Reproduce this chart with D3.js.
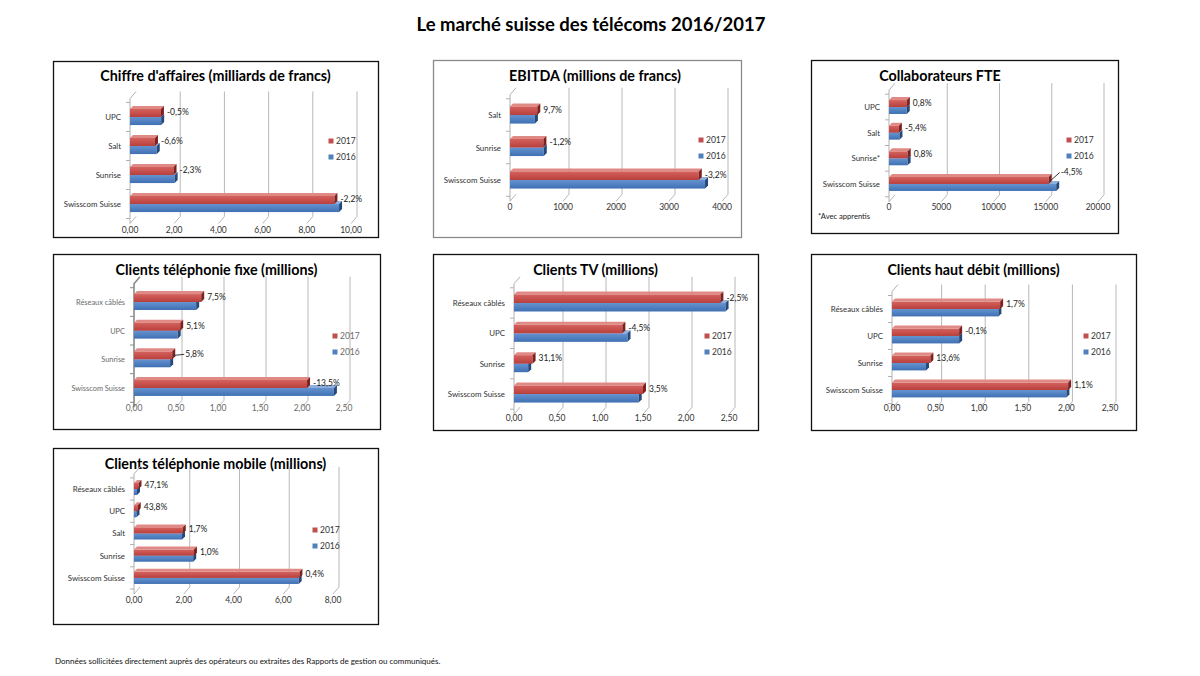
<!DOCTYPE html>
<html><head><meta charset="utf-8">
<script src="https://cdn.jsdelivr.net/npm/d3@7"></script>
<style>body{margin:0;background:#fff}svg{display:block}text{font-family:Lato,'Open Sans',sans-serif}</style>
</head><body><svg id="c" width="1200" height="676"></svg>
<script>
// ---------- DATA ----------
const seriesNames = ["2017", "2016"];

const caCats = ["UPC", "Salt", "Sunrise", "Swisscom Suisse"];
const ca2017 = [1.40, 1.13, 1.97, 9.25];
const ca2016 = [1.41, 1.21, 2.02, 9.46];
const caChg  = ["-0,5%", "-6,6%", "-2,3%", "-2,2%"];
const caTicks = [0, 2, 4, 6, 8, 10];

const ebCats = ["Salt", "Sunrise", "Swisscom Suisse"];
const eb2017 = [515, 630, 3562];
const eb2016 = [470, 638, 3680];
const ebChg  = ["9,7%", "-1,2%", "-3,2%"];
const ebTicks = [0, 1000, 2000, 3000, 4000];

const fteCats = ["UPC", "Salt", "Sunrise*", "Swisscom Suisse"];
const fte2017 = [1710, 946, 1795, 15280];
const fte2016 = [1696, 1000, 1780, 16000];
const fteChg  = ["0,8%", "-5,4%", "0,8%", "-4,5%"];
const fteTicks = [0, 5000, 10000, 15000, 20000];

const fixCats = ["Réseaux câblés", "UPC", "Sunrise", "Swisscom Suisse"];
const fix2017 = [0.80, 0.55, 0.455, 2.06];
const fix2016 = [0.74, 0.52, 0.43, 2.38];
const fixChg  = ["7,5%", "5,1%", "5,8%", "-13,5%"];
const fixTicks = [0, 0.5, 1, 1.5, 2, 2.5];

const tvCats = ["Réseaux câblés", "UPC", "Sunrise", "Swisscom Suisse"];
const tv2017 = [2.40, 1.26, 0.216, 1.50];
const tv2016 = [2.46, 1.32, 0.165, 1.45];
const tvChg  = ["-2,5%", "-4,5%", "31,1%", "3,5%"];
const tvTicks = [0, 0.5, 1, 1.5, 2, 2.5];

const hdCats = ["Réseaux câblés", "UPC", "Sunrise", "Swisscom Suisse"];
const hd2017 = [1.24, 0.77, 0.44, 2.02];
const hd2016 = [1.22, 0.77, 0.39, 2.00];
const hdChg  = ["1,7%", "-0,1%", "13,6%", "1,1%"];
const hdTicks = [0, 0.5, 1, 1.5, 2, 2.5];

const mobCats = ["Réseaux câblés", "UPC", "Salt", "Sunrise", "Swisscom Suisse"];
const mob2017 = [0.18, 0.15, 1.96, 2.41, 6.65];
const mob2016 = [0.12, 0.10, 1.93, 2.38, 6.62];
const mobChg  = ["47,1%", "43,8%", "1,7%", "1,0%", "0,4%"];
const mobTicks = [0, 2, 4, 6, 8];

const mainTitle = "Le marché suisse des télécoms 2016/2017";
const footer = "Données sollicitées directement auprès des opérateurs ou extraites des Rapports de gestion ou communiqués.";

// ---------- RENDER ----------
const svg = d3.select("#c");
const defs = svg.append("defs");
function grad(id, c1, c2) {
  const g = defs.append("linearGradient").attr("id", id).attr("x1", 0).attr("y1", 0).attr("x2", 0).attr("y2", 1);
  g.append("stop").attr("offset", "0%").attr("stop-color", c1);
  g.append("stop").attr("offset", "100%").attr("stop-color", c2);
}
grad("gRed", "#d5625e", "#b83f3c");
grad("gBlue", "#6593d0", "#3f70b3");
const COL = {
  red:  {front: "url(#gRed)",  top: "#e08a86", side: "#7d2220", legend: "#c0504d"},
  blue: {front: "url(#gBlue)", top: "#8fb0dc", side: "#25497a", legend: "#4f81bd"}
};

const comma2 = v => d3.format(".2f")(v).replace(".", ",");
const intFmt = v => d3.format("d")(v);

svg.append("text").attr("x", 591).attr("y", 31).attr("text-anchor", "middle")
  .attr("font-size", 18.5).attr("font-weight", "bold").attr("fill", "#000").text(mainTitle);
svg.append("text").attr("x", 55).attr("y", 664).attr("font-size", 8).attr("fill", "#111").text(footer);

function panel(cfg) {
  const g = svg.append("g");
  const [bx, by, bw, bh] = cfg.box;
  g.append("rect").attr("x", bx + 0.5).attr("y", by + 0.5).attr("width", bw).attr("height", bh)
    .attr("fill", "#fff").attr("stroke", cfg.border || "#111").attr("stroke-width", 1.3);
  g.append("text").attr("x", cfg.titleX != null ? cfg.titleX : bx + bw / 2).attr("y", cfg.titleY)
    .attr("text-anchor", "middle").attr("font-size", 14.3).attr("font-weight", "bold").attr("fill", "#000").text(cfg.title);

  const x = d3.scaleLinear().domain([0, cfg.max]).range([cfg.x0, cfg.x1]);
  const y = d3.scaleBand().domain(cfg.cats).range([cfg.top, cfg.bottom]).padding(0);
  const DX = 6, DY = 7;
  const wallTop = cfg.top - 4, floor = cfg.bottom + 5;

  // back wall gridlines + floor diagonals
  const grid = g.append("g").attr("fill", "none").attr("stroke", "#b8b8b8").attr("stroke-width", 1);
  cfg.ticks.forEach((t, i) => {
    const xx = x(t);
    if (i === 0) {
      grid.append("path").attr("d", `M${xx + DX},${floor - DY} L${xx},${floor}`);
      return;
    }
    grid.append("path").attr("d", `M${xx + DX},${wallTop - DY} V${floor - DY} L${xx},${floor}`);
  });
  // left wall
  const x0 = x(0);
  const wallCol = cfg.muted ? "#8a8a8a" : "#b0b0b0";
  g.append("path").attr("fill", "none").attr("stroke", wallCol).attr("stroke-width", cfg.muted ? 1.6 : 1)
    .attr("d", `M${x0 + DX},${wallTop - DY} L${x0},${wallTop} V${floor}`);
  // category ticks on left wall
  cfg.cats.forEach(c => {
    g.append("line").attr("x1", x0 - 4).attr("x2", x0).attr("y1", y(c)).attr("y2", y(c))
      .attr("stroke", wallCol).attr("stroke-width", 1);
  });
  g.append("line").attr("x1", x0 - 4).attr("x2", x0).attr("y1", cfg.bottom).attr("y2", cfg.bottom)
    .attr("stroke", wallCol);

  // x tick labels
  const txtCol = cfg.muted ? "#6a6a6a" : "#333";
  cfg.ticks.forEach(t => {
    g.append("text").attr("x", x(t)).attr("y", cfg.tickY).attr("text-anchor", "middle")
      .attr("font-size", 8.5).attr("fill", txtCol).text(cfg.fmt(t));
  });
  // category labels
  cfg.cats.forEach(c => {
    g.append("text").attr("x", x0 - 9).attr("y", y(c) + y.bandwidth() / 2 + 3).attr("text-anchor", "end")
      .attr("font-size", cfg.muted ? 7.4 : 7.9).attr("fill", txtCol).text(c);
  });

  // bars
  const step = y.bandwidth();
  const groupH = step * cfg.fill;
  const barH = groupH / 2 - 1.5;
  const bdx = 3, bdy = 3;
  function bar(v, yTop, col) {
    const xe = x(v);
    g.append("path").attr("fill", col.top)
      .attr("d", `M${x0},${yTop} L${x0 + bdx},${yTop - bdy} H${xe + bdx} L${xe},${yTop} Z`);
    g.append("rect").attr("x", x0).attr("y", yTop).attr("width", Math.max(0, xe - x0)).attr("height", barH)
      .attr("fill", col.front);
    g.append("path").attr("fill", col.side)
      .attr("d", `M${xe},${yTop} L${xe + bdx},${yTop - bdy} V${yTop + barH - bdy} L${xe},${yTop + barH} Z`);
  }
  cfg.cats.forEach((c, i) => {
    const gTop = y(c) + (step - groupH) / 2 + 1.5;
    bar(cfg.v2016[i], gTop + barH, COL.blue);
    bar(cfg.v2017[i], gTop, COL.red);
    const nud = (cfg.nudge && cfg.nudge[i]) || null;
    const lx = x(cfg.v2017[i]) + bdx + 3 + (nud ? nud.dx : 0);
    const ly = gTop + barH / 2 + 2 + (nud ? nud.dy : 0);
    if (nud) {
      g.append("path").attr("fill", "none").attr("stroke", "#222").attr("stroke-width", 0.9)
        .attr("d", `M${x(cfg.v2017[i]) + 2},${gTop + barH / 2} L${lx - 1},${ly - 3}`);
    }
    g.append("text").attr("x", lx).attr("y", ly).attr("font-size", 8.5).attr("fill", "#222").text(cfg.chg[i]);
  });

  // legend
  seriesNames.forEach((s, i) => {
    const ly = cfg.legend[1] + i * 16;
    g.append("rect").attr("x", cfg.legend[0] - 2.5).attr("y", ly - 2.5).attr("width", 5).attr("height", 5)
      .attr("fill", i === 0 ? COL.red.legend : COL.blue.legend);
    g.append("text").attr("x", cfg.legend[0] + 5).attr("y", ly + 3).attr("font-size", 8.5)
      .attr("fill", txtCol).text(s);
  });
  if (cfg.note) {
    g.append("text").attr("x", cfg.note[0]).attr("y", cfg.note[1]).attr("font-size", 7.6).attr("fill", "#222").text(cfg.note[2]);
  }
}

panel({title: "Chiffre d'affaires (milliards de francs)", box: [53, 61, 325, 176], titleY: 81,
  cats: caCats, v2017: ca2017, v2016: ca2016, chg: caChg, ticks: caTicks, max: 10, fmt: comma2,
  x0: 130, x1: 351, top: 102.5, bottom: 218.5, tickY: 233, fill: 0.66, legend: [331, 141]});

panel({title: "EBITDA (millions de francs)", box: [433, 60, 308, 177], titleY: 81, titleX: 595, border: "#8a8a8a",
  cats: ebCats, v2017: eb2017, v2016: eb2016, chg: ebChg, ticks: ebTicks, max: 4000, fmt: intFmt,
  x0: 510, x1: 722, top: 98.75, bottom: 196.25, tickY: 210, fill: 0.62, legend: [701, 140]});

panel({title: "Collaborateurs FTE", box: [811, 60, 307, 173], titleY: 81, titleX: 940,
  cats: fteCats, v2017: fte2017, v2016: fte2016, chg: fteChg, ticks: fteTicks, max: 20000, fmt: intFmt,
  x0: 889, x1: 1098, top: 94.2, bottom: 196.8, tickY: 210, fill: 0.66, legend: [1069, 140],
  nudge: {3: {dx: 6, dy: -7}}, note: [818, 219, "*Avec apprentis"]});

panel({title: "Clients téléphonie fixe (millions)", box: [53, 254, 327, 175], titleY: 275, muted: true,
  cats: fixCats, v2017: fix2017, v2016: fix2016, chg: fixChg, ticks: fixTicks, max: 2.5, fmt: comma2,
  x0: 134, x1: 344, top: 287.7, bottom: 402.3, tickY: 411, fill: 0.66, legend: [335, 336],
  nudge: {2: {dx: 7, dy: 0}}});

panel({title: "Clients TV (millions)", box: [433, 254, 325, 176], titleY: 275,
  cats: tvCats, v2017: tv2017, v2016: tv2016, chg: tvChg, ticks: tvTicks, max: 2.5, fmt: comma2,
  x0: 514, x1: 729, top: 287.8, bottom: 409.2, tickY: 421, fill: 0.66, legend: [707, 336]});

panel({title: "Clients haut débit (millions)", box: [811, 254, 325, 176], titleY: 275,
  cats: hdCats, v2017: hd2017, v2016: hd2016, chg: hdChg, ticks: hdTicks, max: 2.5, fmt: comma2,
  x0: 892, x1: 1110, top: 295.5, bottom: 403.5, tickY: 411, fill: 0.66, legend: [1086, 336]});

panel({title: "Clients téléphonie mobile (millions)", box: [53, 448, 325, 176], titleY: 469,
  cats: mobCats, v2017: mob2017, v2016: mob2016, chg: mobChg, ticks: mobTicks, max: 8, fmt: comma2,
  x0: 134, x1: 333, top: 477.9, bottom: 589, tickY: 603, fill: 0.68, legend: [315, 530]});
</script></body></html>
